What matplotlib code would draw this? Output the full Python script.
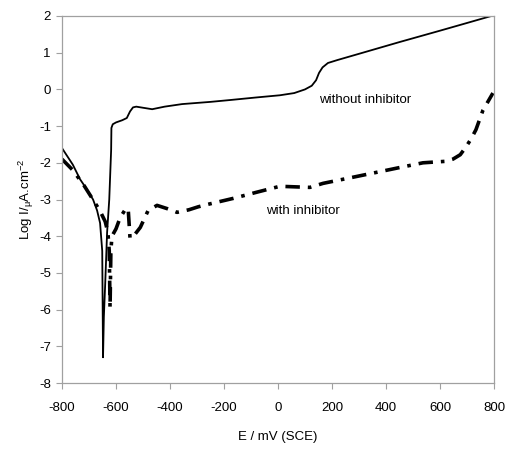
import matplotlib
matplotlib.use("Agg")
import matplotlib.pyplot as plt

# without inhibitor (solid)
e_without = [-800, -760, -733, -710, -685, -670, -659, -651, -648, -645, -640, -633,
             -625, -618, -617, -612, -600, -577, -560, -548, -537, -525, -500, -466,
             -420, -355, -250, -178, -81, 7, 60, 100, 125, 141, 152, 165, 185, 220,
             300, 450, 600, 700, 790]
log_without = [-1.6, -2.05, -2.45, -2.7, -3.0, -3.3, -3.64, -4.4, -7.3, -6.2, -5.3, -3.9,
               -3.0, -1.65, -1.05, -0.95, -0.9, -0.84, -0.78, -0.6, -0.49, -0.47, -0.5, -0.54,
               -0.47, -0.40, -0.34, -0.29, -0.22, -0.16, -0.1, 0.0, 0.1, 0.25, 0.45, 0.6,
               0.72, 0.8, 0.97, 1.29, 1.6, 1.81, 2.0]

# with inhibitor (dash-dot)
e_with = [-800, -760, -720, -690, -660, -640, -630, -625, -622, -619, -615, -600,
          -585, -568, -555, -548, -530, -510, -481, -448, -410, -374, -330, -296,
          -270, -166, -78, 7, 118, 167, 260, 352, 450, 537, 620, 648, 675, 696, 715,
          733, 759, 796]
log_with = [-1.9, -2.2, -2.6, -2.95, -3.3, -3.6, -3.9, -4.4, -5.96, -4.4, -4.0, -3.8,
            -3.5, -3.3, -3.24, -4.06, -3.95, -3.76, -3.3, -3.16, -3.25, -3.35, -3.28, -3.2,
            -3.15, -2.97, -2.8, -2.64, -2.67, -2.56, -2.42, -2.28, -2.13, -2.0, -1.96, -1.9,
            -1.78, -1.57, -1.35, -1.1, -0.57, -0.1]

x_ticks = [-800, -600, -400, -200, 0, 200, 400, 600, 800]
y_ticks = [-8, -7, -6, -5, -4, -3, -2, -1, 0, 1, 2]

plt.rcParams['font.family'] = ['Liberation Sans', 'DejaVu Sans']
plt.rcParams['mathtext.fontset'] = 'custom'
plt.rcParams['mathtext.rm'] = 'Liberation Sans'
plt.rcParams['mathtext.it'] = 'Liberation Sans'
plt.rcParams['axes.unicode_minus'] = False

fig = plt.figure(figsize=(5.12, 4.5), dpi=100)
ax = fig.add_axes([62 / 512, 1 - 383 / 450, (494 - 62) / 512, (383 - 16) / 450])

ax.plot(e_without, log_without, color='black', lw=1.3)
ax.plot(e_with, log_with, color='black', lw=2.6, dashes=(4, 2.2, 1, 2.2))

ax.set_xlim(-800, 800)
ax.set_ylim(-8, 2)
ax.set_xticks(x_ticks)
ax.set_yticks(y_ticks)
for s in ax.spines.values():
    s.set_color('#a0a0a0')
    s.set_linewidth(0.9)
ax.tick_params(direction='out', length=4, color='#a0a0a0', labelsize=9.5,
               labelcolor='black')
ax.tick_params(axis='x', pad=10)
ax.tick_params(axis='y', pad=4)

ax.text(152, -0.28, 'without inhibitor', fontsize=9.5, ha='left', va='center')
ax.text(-44, -3.3, 'with inhibitor', fontsize=9.5, ha='left', va='center')

ax.set_xlabel('E / mV (SCE)', fontsize=9.5, labelpad=12)
ax.set_ylabel(r'Log I/$_{\mu}$A.cm$^{-2}$', fontsize=9.5, labelpad=2)

fig.savefig('out.png', dpi=100)
